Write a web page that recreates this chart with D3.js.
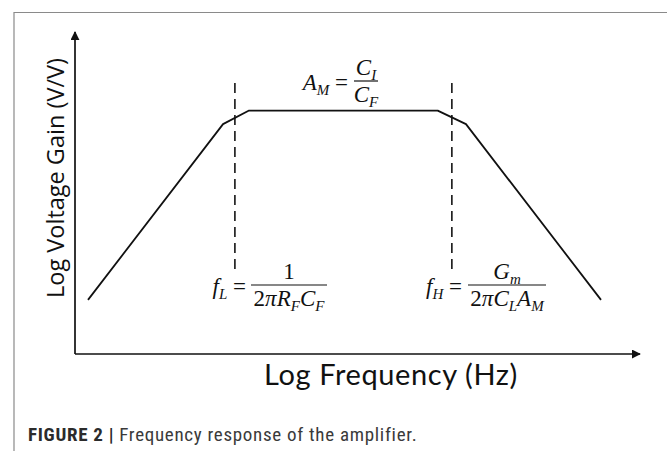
<!DOCTYPE html>
<html>
<head>
<meta charset="utf-8">
<script src="https://cdn.jsdelivr.net/npm/d3@7"></script>
<style>
  html, body { margin: 0; padding: 0; background: #fff; }
  svg { display: block; }
</style>
</head>
<body>
<svg id="chart" width="667" height="451"></svg>
<script>
// Asymptotic (Bode-style) magnitude response, in relative log units (0-100 on each axis)
const logFreq = [2.3, 26.2, 30.8, 64.2, 69.2, 93.1];
const logGain = [16.8, 71.4, 75.6, 75.6, 71.4, 16.8];

// Corner frequencies f_L and f_H, marked with dashed guides
const cornerFreq = [28.3, 66.7];
const guideSpan = [25.2, 84.2];

const xTitle = "Log Frequency (Hz)";
const yTitle = "Log Voltage Gain (V/V)";

const svg = d3.select("#chart");
const W = 667, H = 451;

const x = d3.scaleLinear().domain([0, 100]).range([75, 640]);
const y = d3.scaleLinear().domain([0, 100]).range([354, 32]);

// Figure frame (top and left rules)
svg.append("path")
  .attr("d", `M14,${H} L14,12.5 L${W},12.5`)
  .attr("fill", "none").attr("stroke", "#8a8a8a").attr("stroke-width", 1.2);

// Arrow markers for the axes
const defs = svg.append("defs");
defs.append("marker")
  .attr("id", "arrow").attr("viewBox", "0 0 10 10")
  .attr("refX", 9).attr("refY", 5)
  .attr("markerWidth", 9).attr("markerHeight", 9)
  .attr("markerUnits", "userSpaceOnUse")
  .attr("orient", "auto")
  .append("path").attr("d", "M0,0 L10,5 L0,10 z").attr("fill", "#111");

// Axes
svg.append("line")
  .attr("x1", x(0)).attr("y1", y(0)).attr("x2", x(100)).attr("y2", y(0))
  .attr("stroke", "#111").attr("stroke-width", 1.7).attr("marker-end", "url(#arrow)");
svg.append("line")
  .attr("x1", x(0)).attr("y1", y(0)).attr("x2", x(0)).attr("y2", y(100))
  .attr("stroke", "#111").attr("stroke-width", 1.7).attr("marker-end", "url(#arrow)");

// Dashed corner-frequency guides
svg.selectAll(".guide").data(cornerFreq).enter().append("line")
  .attr("class", "guide")
  .attr("x1", d => x(d)).attr("x2", d => x(d))
  .attr("y1", y(guideSpan[1])).attr("y2", y(guideSpan[0]))
  .attr("stroke", "#222").attr("stroke-width", 1.7)
  .attr("stroke-dasharray", "10,6");

// Gain response
const line = d3.line().x(d => x(d[0])).y(d => y(d[1]));
svg.append("path")
  .datum(d3.zip(logFreq, logGain))
  .attr("d", line)
  .attr("fill", "none").attr("stroke", "#111").attr("stroke-width", 1.8)
  .attr("stroke-linejoin", "round");

// Axis titles
svg.append("text")
  .attr("x", 391).attr("y", 385)
  .attr("text-anchor", "middle")
  .attr("font-family", "Lato, 'Open Sans', sans-serif")
  .attr("font-size", 29).attr("letter-spacing", 0.6).attr("fill", "#111")
  .text(xTitle);

svg.append("text")
  .attr("transform", "translate(64,178) rotate(-90)")
  .attr("text-anchor", "middle")
  .attr("font-family", "'Open Sans', sans-serif")
  .attr("font-size", 23.5).attr("fill", "#111")
  .text(yTitle);

// Math annotations
const mathFont = "'Liberation Serif', 'DejaVu Serif', serif";
const mathSize = 23, subSize = 15;

function mathText(g, xPos, yPos, parts, anchor) {
  const t = g.append("text")
    .attr("x", xPos).attr("y", yPos)
    .attr("text-anchor", anchor || "middle")
    .attr("font-family", mathFont).attr("font-size", mathSize)
    .attr("fill", "#111");
  let shifted = 0;
  parts.forEach(p => {
    const s = t.append("tspan").text(p.t);
    if (p.i) s.attr("font-style", "italic");
    if (p.sub) { s.attr("font-size", subSize).attr("dy", 5 - shifted); shifted = 5; }
    else if (shifted) { s.attr("dy", -shifted); shifted = 0; }
  });
  return t;
}

function fraction(g, cx, barY, halfW, num, den) {
  g.append("line")
    .attr("x1", cx - halfW).attr("x2", cx + halfW)
    .attr("y1", barY).attr("y2", barY)
    .attr("stroke", "#111").attr("stroke-width", 1.2);
  mathText(g, cx, barY - 6, num);
  mathText(g, cx, barY + 21, den);
}

const ann = svg.append("g");

// A_M = C_I / C_F
mathText(ann, 348, 90, [{t: "A", i: true}, {t: "M", i: true, sub: true}, {t: " ="}], "end");
fraction(ann, 366, 81, 12,
  [{t: "C", i: true}, {t: "I", i: true, sub: true}],
  [{t: "C", i: true}, {t: "F", i: true, sub: true}]);

// f_L = 1 / (2π R_F C_F)
mathText(ann, 246, 294, [{t: "f", i: true}, {t: "L", i: true, sub: true}, {t: " ="}], "end");
fraction(ann, 289, 285, 38,
  [{t: "1"}],
  [{t: "2"}, {t: "π", i: true}, {t: "R", i: true}, {t: "F", i: true, sub: true},
   {t: "C", i: true}, {t: "F", i: true, sub: true}]);

// f_H = G_m / (2π C_L A_M)
mathText(ann, 462, 294, [{t: "f", i: true}, {t: "H", i: true, sub: true}, {t: " ="}], "end");
fraction(ann, 507, 285, 39,
  [{t: "G", i: true}, {t: "m", i: true, sub: true}],
  [{t: "2"}, {t: "π", i: true}, {t: "C", i: true}, {t: "L", i: true, sub: true},
   {t: "A", i: true}, {t: "M", i: true, sub: true}]);

// Caption
const cap = svg.append("text")
  .attr("x", 28).attr("y", 441)
  .attr("font-family", "'Liberation Sans Narrow', 'Roboto Condensed', Roboto, sans-serif")
  .attr("font-size", 19).attr("letter-spacing", 0.7).attr("fill", "#3a3a3a");
cap.append("tspan").attr("font-weight", "bold").attr("fill", "#2b2b2b").text("FIGURE 2 | ");
cap.append("tspan").text("Frequency response of the amplifier.");
</script>
</body>
</html>
